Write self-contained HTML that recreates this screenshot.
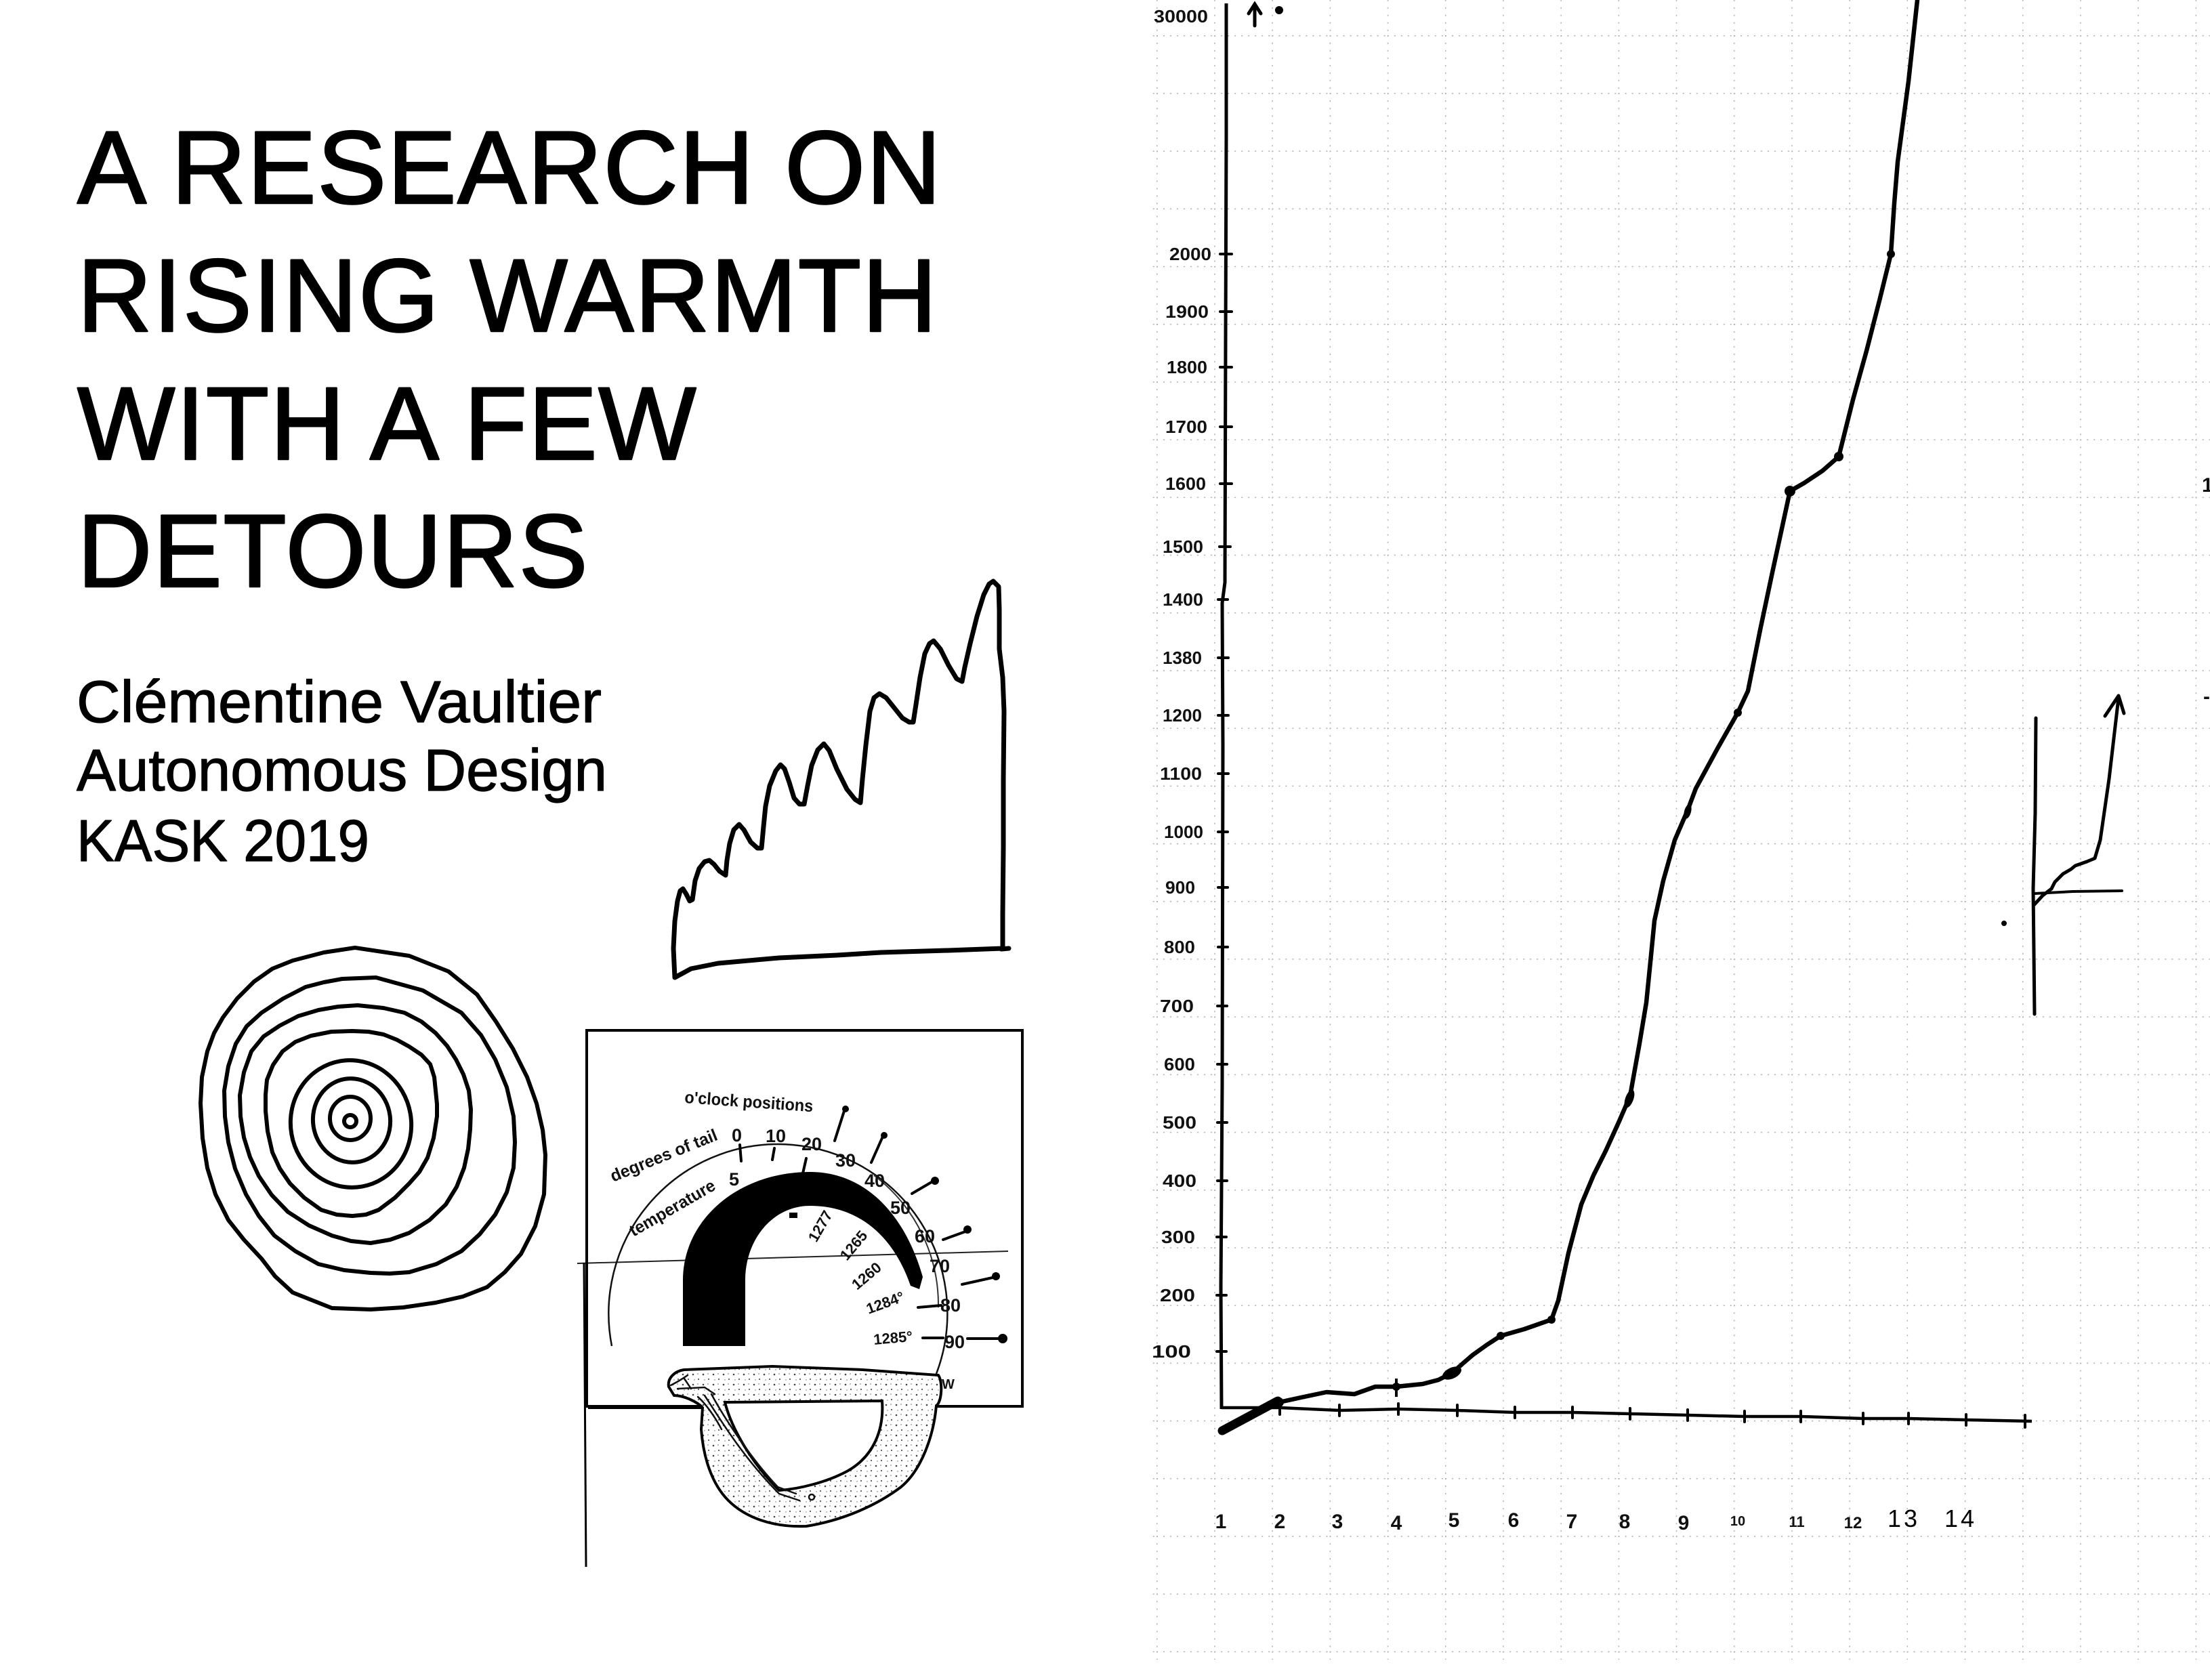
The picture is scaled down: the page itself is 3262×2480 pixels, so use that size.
<!DOCTYPE html>
<html>
<head>
<meta charset="utf-8">
<style>
  html, body { margin:0; padding:0; background:#fff; }
  body { width:3262px; height:2480px; overflow:hidden; }
  svg { display:block; }
  .t { font-family:"Liberation Sans", Arial, sans-serif; fill:#000; }
  .hb { font-family:"Liberation Sans", Arial, sans-serif; font-weight:bold; fill:#111; }
</style>
</head>
<body>
<svg width="3262" height="2480" viewBox="0 0 3262 2480" xmlns="http://www.w3.org/2000/svg">
  <defs>
    <pattern id="grid" x="1707" y="52" width="85.2" height="85.2" patternUnits="userSpaceOnUse">
      <line x1="0" y1="0.5" x2="85.2" y2="0.5" stroke="#777" stroke-width="2" stroke-dasharray="2 8"/>
      <line x1="0.5" y1="0" x2="0.5" y2="85.2" stroke="#777" stroke-width="2" stroke-dasharray="2 9"/>
    </pattern>
    <pattern id="st" width="15" height="15" patternUnits="userSpaceOnUse">
      <rect width="15" height="15" fill="#fff"/>
      <circle cx="3" cy="4" r="1.3" fill="#444"/>
      <circle cx="11" cy="11" r="1.1" fill="#555"/>
      <circle cx="10" cy="3" r="0.8" fill="#666"/>
      <circle cx="5" cy="12" r="0.7" fill="#666"/>
    </pattern>
  </defs>

  <rect width="3262" height="2480" fill="#fff"/>

  <!-- ============ LEFT PAGE ============ -->
  <g class="t" font-size="153" stroke="#000" stroke-width="2.5" stroke-linejoin="round" letter-spacing="1.4">
    <text x="114" y="300">A RESEARCH ON</text>
    <text x="114" y="489">RISING WARMTH</text>
    <text x="114" y="678">WITH A FEW</text>
    <text x="114" y="866">DETOURS</text>
  </g>
  <g class="t" font-size="87" stroke="#000" stroke-width="1.2" stroke-linejoin="round">
    <text x="113" y="1066" textLength="775" lengthAdjust="spacingAndGlyphs">Clémentine Vaultier</text>
    <text x="113" y="1167" textLength="783" lengthAdjust="spacingAndGlyphs">Autonomous Design</text>
    <text x="113" y="1271" textLength="432" lengthAdjust="spacingAndGlyphs">KASK 2019</text>
  </g>

  <!-- spiky mountain chart -->
  <polyline fill="none" stroke="#000" stroke-width="7" stroke-linejoin="round" stroke-linecap="round"
    points="996,1443 994,1400 996,1360 1000,1330 1004,1315 1008,1312 1013,1320 1018,1330 1022,1328 1026,1300 1032,1282 1040,1272 1047,1270 1054,1276 1062,1286 1071,1292 1073,1270 1077,1245 1083,1225 1091,1217 1098,1225 1108,1243 1118,1252 1124,1252 1127,1220 1130,1190 1136,1160 1145,1138 1152,1129 1158,1135 1165,1155 1172,1178 1180,1187 1187,1187 1192,1160 1198,1130 1207,1107 1216,1098 1224,1108 1235,1135 1250,1165 1262,1180 1270,1185 1273,1150 1278,1100 1284,1050 1290,1030 1298,1024 1308,1030 1320,1045 1332,1060 1342,1066 1348,1066 1352,1040 1358,1000 1365,965 1372,950 1378,946 1388,958 1400,982 1412,1002 1420,1006 1424,985 1432,950 1442,910 1452,878 1460,862 1466,858 1474,866 1475,900 1475,958 1480,1000 1482,1050 1481,1150 1481,1250 1480,1350 1480,1400 1400,1403 1300,1406 1236,1410 1150,1414 1060,1422 1020,1430 996,1443"/>
  <line x1="1478" y1="1401" x2="1489" y2="1400" stroke="#000" stroke-width="7" stroke-linecap="round"/>

  <!-- concentric rings -->
  <g fill="none" stroke="#000" stroke-width="6" stroke-linejoin="round">
    <polygon points="524,1399 604,1411 662,1434 704,1468 732,1508 757,1548 778,1590 792,1629 801,1668 805,1705 803,1763 790,1810 769,1851 745,1878 719,1900 683,1914 643,1923 595,1930 547,1933 490,1931 432,1908 406,1884 386,1858 360,1830 337,1801 318,1763 306,1724 299,1680 296,1629 298,1590 306,1552 316,1525 329,1502 350,1474 375,1449 402,1430 432,1418 478,1406"/>
    <polygon points="555,1443 624,1462 681,1495 710,1528 731,1564 748,1605 758,1648 760,1686 758,1724 748,1760 731,1793 708,1822 681,1847 644,1866 604,1878 575,1880 547,1879 508,1875 470,1866 436,1847 405,1824 382,1795 363,1763 347,1725 337,1686 332,1648 331,1610 337,1574 348,1541 364,1515 386,1495 418,1474 451,1457 478,1450 505,1445"/>
    <polygon points="528,1484 566,1488 597,1495 622,1508 643,1525 660,1544 673,1564 684,1586 692,1610 695,1638 694,1667 691,1696 685,1724 674,1752 658,1778 634,1801 604,1820 576,1830 547,1835 518,1832 490,1824 456,1809 425,1789 401,1764 382,1736 369,1708 360,1679 355,1648 354,1617 360,1583 371,1552 389,1530 413,1514 440,1500 470,1491 499,1486"/>
    <polygon points="520,1522 544,1523 566,1527 586,1535 604,1545 622,1557 635,1571 641,1590 643,1610 645,1630 645,1648 640,1680 631,1709 619,1730 604,1747 583,1768 559,1786 540,1793 520,1795 497,1793 474,1786 449,1768 428,1747 413,1725 402,1701 395,1670 392,1640 392,1616 394,1594 403,1572 417,1552 436,1538 459,1529 489,1523"/>
    <ellipse cx="518" cy="1659" rx="89" ry="94" transform="rotate(-10 518 1659)"/>
    <ellipse cx="519" cy="1654" rx="57" ry="62" transform="rotate(-8 519 1654)"/>
    <ellipse cx="517" cy="1651" rx="30" ry="32"/>
    <circle cx="517" cy="1655" r="9"/>
  </g>

  <!-- gauge collage -->
  <g>
    <line x1="852" y1="1865" x2="1488" y2="1847" stroke="#222" stroke-width="2"/>
    <line x1="862" y1="1864" x2="865" y2="2313" stroke="#000" stroke-width="3"/>
    <rect x="866" y="1521" width="643" height="555" fill="none" stroke="#000" stroke-width="4"/>
    <path d="M903,1987 A250,250 0 1 1 1382,2028" fill="none" stroke="#111" stroke-width="2.5"/>
    <path d="M1290,1735 A240,240 0 0 1 1385,1930" fill="none" stroke="#333" stroke-width="2"/>
    <path d="M1008,1987 L1008,1890 C1008,1800 1090,1730 1196,1730 C1275,1730 1335,1790 1362,1885 L1357,1903 L1344,1898 C1318,1822 1265,1780 1196,1780 C1140,1780 1100,1830 1100,1890 L1100,1987 Z" fill="#000"/>
    <text class="hb" font-size="25" x="1010" y="1628" transform="rotate(4 1010 1628)" textLength="190" lengthAdjust="spacingAndGlyphs">o'clock positions</text>
    <text class="hb" font-size="25" x="905" y="1745" transform="rotate(-22 905 1745)" textLength="168" lengthAdjust="spacingAndGlyphs">degrees of tail</text>
    <text class="hb" font-size="25" x="935" y="1826" transform="rotate(-30 935 1826)" textLength="142" lengthAdjust="spacingAndGlyphs">temperature</text>
    <g class="hb" font-size="27">
      <text x="1080" y="1685">0</text>
      <text x="1130" y="1686">10</text>
      <text x="1183" y="1698">20</text>
      <text x="1233" y="1722">30</text>
      <text x="1276" y="1752">40</text>
      <text x="1314" y="1792">50</text>
      <text x="1350" y="1834">60</text>
      <text x="1372" y="1878">70</text>
      <text x="1388" y="1936">80</text>
      <text x="1394" y="1990">90</text>
      <text x="1076" y="1750">5</text>
    </g>
    <g class="hb" font-size="22">
      <text x="1205" y="1835" transform="rotate(-60 1205 1835)">1277</text>
      <text x="1250" y="1862" transform="rotate(-50 1250 1862)">1265</text>
      <text x="1265" y="1905" transform="rotate(-40 1265 1905)">1260</text>
      <text x="1282" y="1940" transform="rotate(-20 1282 1940)">1284°</text>
      <text x="1290" y="1985" transform="rotate(-5 1290 1985)">1285°</text>
      <text x="1390" y="2050" font-size="20">W</text>
    </g>
    <g stroke="#000" stroke-width="4" stroke-linecap="round" fill="none">
      <line x1="1092" y1="1690" x2="1094" y2="1714"/>
      <line x1="1143" y1="1695" x2="1140" y2="1712"/>
      <line x1="1190" y1="1710" x2="1185" y2="1732"/>
      <line x1="1232" y1="1684" x2="1246" y2="1640"/>
      <line x1="1286" y1="1716" x2="1302" y2="1680"/>
      <line x1="1346" y1="1762" x2="1375" y2="1745"/>
      <line x1="1392" y1="1830" x2="1425" y2="1818"/>
      <line x1="1420" y1="1896" x2="1465" y2="1886"/>
      <line x1="1428" y1="1976" x2="1475" y2="1976"/>
      <line x1="1355" y1="1930" x2="1389" y2="1927"/>
      <line x1="1362" y1="1975" x2="1392" y2="1975"/>
    </g>
    <g fill="#000">
      <circle cx="1248" cy="1637" r="5"/>
      <circle cx="1305" cy="1676" r="5"/>
      <circle cx="1380" cy="1743" r="6"/>
      <circle cx="1428" cy="1815" r="6"/>
      <circle cx="1470" cy="1884" r="6"/>
      <circle cx="1480" cy="1976" r="7"/>
      <rect x="1165" y="1790" width="12" height="8"/>
    </g>
    <path d="M987,2047 C985,2035 995,2024 1010,2022 L1140,2017 L1273,2022 L1385,2030 C1392,2040 1390,2070 1382,2075 C1378,2120 1360,2170 1330,2195 C1290,2225 1240,2245 1190,2253 C1140,2255 1100,2240 1075,2215 C1050,2190 1038,2150 1035,2110 L1037,2078 C1030,2070 1010,2060 995,2060 Z" fill="url(#st)" stroke="#000" stroke-width="4"/>
    <path d="M1070,2070 L1302,2068 C1305,2110 1290,2150 1250,2172 C1220,2188 1180,2198 1150,2200 C1110,2160 1080,2110 1070,2070 Z" fill="#fff" stroke="#000" stroke-width="4"/>
    <line x1="868" y1="2078" x2="1037" y2="2078" stroke="#000" stroke-width="4"/>
    <line x1="1385" y1="2076" x2="1509" y2="2076" stroke="#000" stroke-width="4"/>
    <g fill="none" stroke="#111" stroke-width="2.5" stroke-linecap="round">
      <path d="M1040,2060 C1060,2090 1095,2150 1150,2205 L1180,2215"/>
      <path d="M1050,2058 C1070,2095 1110,2155 1148,2195 L1175,2205"/>
      <path d="M1030,2062 C1045,2075 1060,2100 1065,2110"/>
      <path d="M1010,2035 L1020,2050 M1000,2050 L1040,2048 L1055,2058"/>
      <path d="M990,2045 C1000,2040 1008,2035 1015,2030"/>
      <circle cx="1198" cy="2210" r="4"/>
    </g>
  </g>

  <!-- ============ RIGHT PAGE (chart) ============ -->
  <rect x="1700" y="0" width="1562" height="2450" fill="url(#grid)" opacity="0.6"/>

  <polyline fill="none" stroke="#000" stroke-width="5" stroke-linejoin="round"
    points="1810,5 1810,200 1809,500 1808,860 1804,890 1805,1100 1804,1600 1802,1900 1803,2080"/>
  <polyline fill="none" stroke="#000" stroke-width="4.5" stroke-linejoin="round"
    points="1803,2078 1889,2078 1977,2082 2064,2080 2151,2082 2236,2085 2321,2085 2406,2087 2491,2089 2575,2091 2658,2091 2750,2094 2817,2094 2902,2096 2999,2098"/>
  <g stroke="#000" stroke-width="4" stroke-linecap="round">
    <line x1="1889" y1="2070" x2="1889" y2="2088"/>
    <line x1="1977" y1="2074" x2="1977" y2="2090"/>
    <line x1="2064" y1="2072" x2="2064" y2="2088"/>
    <line x1="2151" y1="2074" x2="2151" y2="2090"/>
    <line x1="2236" y1="2077" x2="2236" y2="2093"/>
    <line x1="2321" y1="2077" x2="2321" y2="2093"/>
    <line x1="2406" y1="2079" x2="2406" y2="2095"/>
    <line x1="2491" y1="2081" x2="2491" y2="2097"/>
    <line x1="2575" y1="2083" x2="2575" y2="2099"/>
    <line x1="2658" y1="2083" x2="2658" y2="2099"/>
    <line x1="2750" y1="2086" x2="2750" y2="2102"/>
    <line x1="2817" y1="2086" x2="2817" y2="2102"/>
    <line x1="2902" y1="2088" x2="2902" y2="2104"/>
    <line x1="2989" y1="2089" x2="2989" y2="2107"/>
  </g>
  <g stroke="#000" stroke-width="4" stroke-linecap="round">
    <line x1="1801" y1="375" x2="1818" y2="375"/>
    <line x1="1801" y1="460" x2="1818" y2="460"/>
    <line x1="1801" y1="542" x2="1818" y2="542"/>
    <line x1="1801" y1="630" x2="1818" y2="630"/>
    <line x1="1801" y1="714" x2="1818" y2="714"/>
    <line x1="1800" y1="807" x2="1816" y2="807"/>
    <line x1="1798" y1="885" x2="1812" y2="885"/>
    <line x1="1798" y1="971" x2="1813" y2="971"/>
    <line x1="1798" y1="1056" x2="1813" y2="1056"/>
    <line x1="1798" y1="1142" x2="1813" y2="1142"/>
    <line x1="1798" y1="1228" x2="1812" y2="1228"/>
    <line x1="1798" y1="1310" x2="1812" y2="1310"/>
    <line x1="1798" y1="1398" x2="1812" y2="1398"/>
    <line x1="1797" y1="1485" x2="1811" y2="1485"/>
    <line x1="1797" y1="1571" x2="1811" y2="1571"/>
    <line x1="1797" y1="1657" x2="1811" y2="1657"/>
    <line x1="1797" y1="1743" x2="1811" y2="1743"/>
    <line x1="1796" y1="1826" x2="1810" y2="1826"/>
    <line x1="1796" y1="1912" x2="1810" y2="1912"/>
    <line x1="1796" y1="1995" x2="1810" y2="1995"/>
  </g>
  <g class="hb" font-size="26">
    <text x="1703" y="33" textLength="80" lengthAdjust="spacingAndGlyphs">30000</text>
    <text x="1726" y="384" textLength="62" lengthAdjust="spacingAndGlyphs">2000</text>
    <text x="1720" y="469" textLength="64" lengthAdjust="spacingAndGlyphs">1900</text>
    <text x="1722" y="551" textLength="60" lengthAdjust="spacingAndGlyphs">1800</text>
    <text x="1720" y="639" textLength="62" lengthAdjust="spacingAndGlyphs">1700</text>
    <text x="1720" y="723" textLength="60" lengthAdjust="spacingAndGlyphs">1600</text>
    <text x="1716" y="816" textLength="60" lengthAdjust="spacingAndGlyphs">1500</text>
    <text x="1716" y="894" textLength="60" lengthAdjust="spacingAndGlyphs">1400</text>
    <text x="1716" y="980" textLength="58" lengthAdjust="spacingAndGlyphs">1380</text>
    <text x="1716" y="1065" textLength="58" lengthAdjust="spacingAndGlyphs">1200</text>
    <text x="1712" y="1151" textLength="62" lengthAdjust="spacingAndGlyphs">1100</text>
    <text x="1718" y="1237" textLength="58" lengthAdjust="spacingAndGlyphs">1000</text>
    <text x="1720" y="1319" textLength="44" lengthAdjust="spacingAndGlyphs">900</text>
    <text x="1718" y="1407" textLength="46" lengthAdjust="spacingAndGlyphs">800</text>
    <text x="1712" y="1494" textLength="50" lengthAdjust="spacingAndGlyphs">700</text>
    <text x="1718" y="1580" textLength="46" lengthAdjust="spacingAndGlyphs">600</text>
    <text x="1716" y="1666" textLength="50" lengthAdjust="spacingAndGlyphs">500</text>
    <text x="1716" y="1752" textLength="50" lengthAdjust="spacingAndGlyphs">400</text>
    <text x="1714" y="1835" textLength="50" lengthAdjust="spacingAndGlyphs">300</text>
    <text x="1712" y="1921" textLength="52" lengthAdjust="spacingAndGlyphs">200</text>
    <text x="1700" y="2004" textLength="58" lengthAdjust="spacingAndGlyphs">100</text>
  </g>
  <g class="hb" font-size="30" text-anchor="middle">
    <text x="1802" y="2256">1</text>
    <text x="1889" y="2256">2</text>
    <text x="1974" y="2256">3</text>
    <text x="2061" y="2258">4</text>
    <text x="2146" y="2254">5</text>
    <text x="2234" y="2254">6</text>
    <text x="2320" y="2256">7</text>
    <text x="2398" y="2256">8</text>
    <text x="2485" y="2258">9</text>
    <text x="2565" y="2252" font-size="20">10</text>
    <text x="2652" y="2254" font-size="22">11</text>
    <text x="2735" y="2256" font-size="24">12</text>
  </g>
  <g class="t" font-size="36" letter-spacing="4">
    <text x="2786" y="2254">13</text>
    <text x="2870" y="2254">14</text>
  </g>

  <g stroke="#000" stroke-width="5" stroke-linecap="round" fill="none">
    <line x1="1852" y1="38" x2="1852" y2="8"/>
    <polyline points="1843,20 1852,6 1861,20"/>
  </g>
  <circle cx="1888" cy="15" r="6" fill="#000"/>

  <polyline fill="none" stroke="#000" stroke-width="6.5" stroke-linejoin="round" stroke-linecap="round"
    points="1802,2110 1888,2070 1920,2063 1958,2055 1999,2058 2030,2047 2061,2047 2100,2043 2123,2037 2143,2027 2160,2012 2174,2000 2195,1985 2215,1972 2250,1962 2290,1948 2300,1920 2315,1850 2334,1778 2352,1735 2370,1699 2390,1655 2406,1618 2420,1540 2430,1480 2437,1410 2442,1359 2455,1300 2472,1240 2491,1196 2503,1164 2535,1105 2565,1052 2580,1020 2598,930 2616,845 2642,725 2663,713 2690,695 2714,674 2735,590 2755,518 2775,440 2791,375 2796,300 2801,239 2817,120 2830,0"/>
  <line x1="1804" y1="2112" x2="1886" y2="2068" stroke="#000" stroke-width="13" stroke-linecap="round"/>
  <g fill="#000">
    <circle cx="1888" cy="2070" r="7"/>
    <circle cx="2061" cy="2047" r="6"/>
    <ellipse cx="2143" cy="2027" rx="15" ry="8" transform="rotate(-25 2143 2027)"/>
    <circle cx="2215" cy="1972" r="6"/>
    <circle cx="2290" cy="1948" r="6"/>
    <ellipse cx="2405" cy="1622" rx="6" ry="14" transform="rotate(20 2405 1622)"/>
    <ellipse cx="2491" cy="1198" rx="5" ry="11" transform="rotate(15 2491 1198)"/>
    <circle cx="2565" cy="1052" r="6"/>
    <circle cx="2642" cy="725" r="8"/>
    <circle cx="2714" cy="674" r="7"/>
    <circle cx="2791" cy="375" r="6"/>
  </g>
  <line x1="2061" y1="2035" x2="2061" y2="2062" stroke="#000" stroke-width="4"/>

  <g fill="none" stroke="#000" stroke-linecap="round" stroke-linejoin="round">
    <polyline stroke-width="5" points="3005,1060 3004,1200 3001,1312 3003,1497"/>
    <polyline stroke-width="4" points="3003,1319 3060,1316 3132,1315"/>
    <polyline stroke-width="5" points="3003,1335 3015,1322 3028,1312 3033,1302 3045,1290 3057,1283 3063,1278 3080,1272 3092,1267 3100,1240 3113,1150 3127,1030"/>
    <polyline stroke-width="5" points="3107,1057 3127,1027 3135,1053"/>
  </g>
  <circle cx="2958" cy="1363" r="4" fill="#000"/>

  <g class="hb" font-size="30">
    <text x="3250" y="726">1</text>
    <text x="3252" y="1038">-</text>
  </g>
</svg>
</body>
</html>
